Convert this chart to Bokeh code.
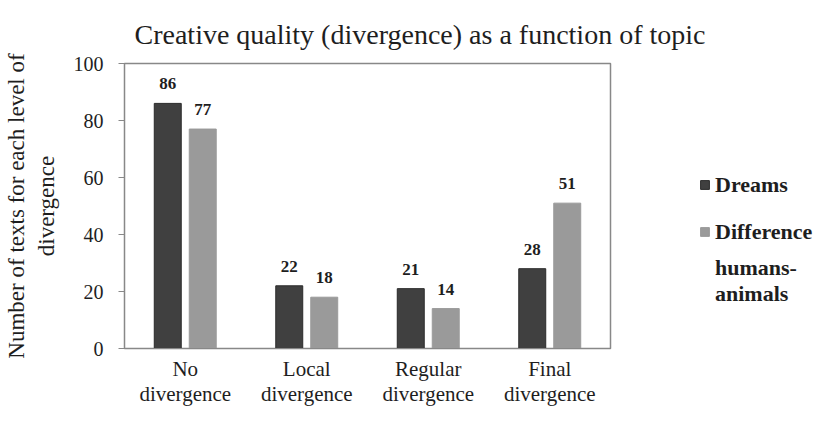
from bokeh.plotting import figure
from bokeh.models import ColumnDataSource, FactorRange, Legend, LegendItem, FixedTicker, Range1d
from bokeh.transform import dodge
from bokeh.core.properties import value
from bokeh.embed import file_html
from bokeh.resources import INLINE

categories = ["No\ndivergence", "Local\ndivergence", "Regular\ndivergence", "Final\ndivergence"]
dreams = [86, 22, 21, 28]
difference = [77, 18, 14, 51]
series_names = ["Dreams", "Difference", "humans-\nanimals"]
y_ticks = [0, 20, 40, 60, 80, 100]

FONT = "Liberation Serif"
DARK = "#404040"
LIGHT = "#9a9a9a"
TXT = "#1e1e1e"

src = ColumnDataSource(dict(cat=categories, d=dreams, f=difference,
                            dl=[str(v) for v in dreams], fl=[str(v) for v in difference]))

p = figure(x_range=FactorRange(*categories), y_range=Range1d(0, 100),
           frame_width=486, frame_height=285, output_backend="svg", toolbar_location=None,
           min_border_left=124, min_border_right=210, min_border_top=63, min_border_bottom=57)

p.title.text = "Creative quality (divergence) as a function of topic"
p.title.text_font = FONT
p.title.text_font_size = "28px"
p.title.text_font_style = "normal"
p.title.align = "left"
p.title.offset = 10
p.title.standoff = 28
p.title.text_color = TXT

r1 = p.vbar(x=dodge("cat", -0.144, range=p.x_range), top="d", width=0.222, source=src,
            fill_color=DARK, line_color="#2a2a2a")
r2 = p.vbar(x=dodge("cat", 0.144, range=p.x_range), top="f", width=0.222, source=src,
            fill_color=LIGHT, line_color=LIGHT)
dummy = p.scatter(x=[], y=[], marker="square", fill_alpha=0, line_alpha=0)

for col, lab, off in (("d", "dl", -0.144), ("f", "fl", 0.144)):
    p.text(x=dodge("cat", off, range=p.x_range), y=col, text=lab, source=src,
           text_font=value(FONT), text_font_size="17px", text_font_style="bold",
           text_align="center", text_baseline="bottom", y_offset=-14, text_color=TXT)

p.xgrid.grid_line_color = None
p.ygrid.grid_line_color = None
p.outline_line_color = "#888888"
p.outline_line_width = 1.5

p.yaxis.ticker = FixedTicker(ticks=y_ticks)
p.yaxis.minor_tick_line_color = None
p.yaxis.major_tick_out = 6
p.yaxis.major_tick_in = 0
p.yaxis.major_tick_line_color = "#888888"
p.yaxis.axis_line_color = "#888888"
p.yaxis.major_label_text_font = FONT
p.yaxis.major_label_text_font_size = "20px"
p.yaxis.major_label_text_color = TXT
p.yaxis.major_label_standoff = 15
p.yaxis.axis_label = "Number of texts for each level of\ndivergence"
p.yaxis.axis_label_text_font = FONT
p.yaxis.axis_label_text_font_size = "23px"
p.yaxis.axis_label_text_font_style = "normal"
p.yaxis.axis_label_text_color = TXT
p.yaxis.axis_label_standoff = 12

p.xaxis.major_tick_line_color = None
p.xaxis.minor_tick_line_color = None
p.xaxis.axis_line_color = "#888888"
p.xaxis.major_label_text_font = FONT
p.xaxis.major_label_text_font_size = "21px"
p.xaxis.major_label_text_color = TXT
p.xaxis.major_label_text_line_height = 1.05
p.xaxis.major_label_standoff = 2
p.x_range.range_padding = 0
p.x_range.group_padding = 0

legend = Legend(items=[LegendItem(label=series_names[0], renderers=[r1]),
                       LegendItem(label=series_names[1], renderers=[r2]),
                       LegendItem(label=series_names[2], renderers=[dummy])],
                location=(89, 41), orientation="vertical", spacing=0,
                label_text_font=FONT, label_text_font_size="22px", label_text_font_style="bold",
                label_text_color=TXT, label_text_line_height=1.5,
                glyph_width=11, glyph_height=11, label_height=47,
                border_line_color=None, background_fill_alpha=0, label_standoff=5,
                padding=0, margin=0)
p.add_layout(legend, "right")

open("out.html", "w").write(file_html(p, INLINE))
